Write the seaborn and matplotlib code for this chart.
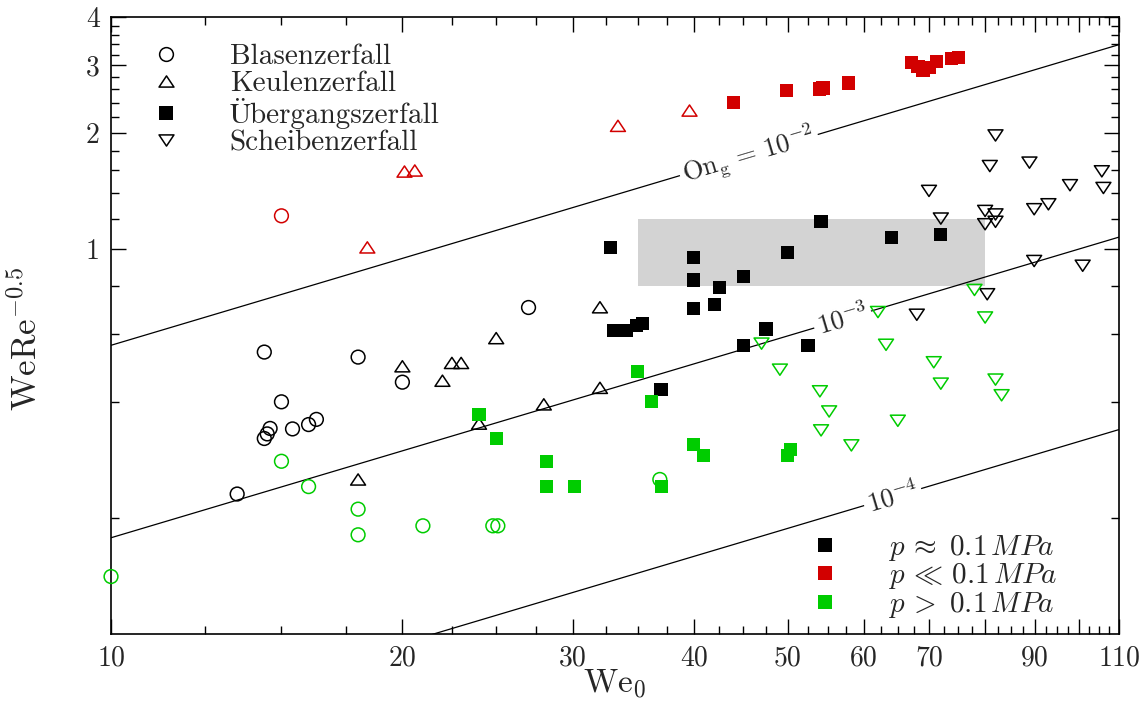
import numpy as np
import pandas as pd
import matplotlib
matplotlib.use("Agg")
import matplotlib.pyplot as plt
from matplotlib.lines import Line2D
from matplotlib.path import Path
from matplotlib.ticker import FixedLocator, FixedFormatter, MultipleLocator, NullFormatter
import seaborn as sns

# Blasenzerfall (open circles)
blasen_atm_we = [14.4, 18.0, 15.0, 14.6, 14.5, 14.4, 15.4, 16.0, 16.3, 13.5, 20.0, 27.0]
blasen_atm_y = [0.540, 0.524, 0.401, 0.342, 0.331, 0.322, 0.341, 0.350, 0.361, 0.231, 0.451, 0.705]
blasen_low_we = [15.0]
blasen_low_y = [1.22]
blasen_high_we = [15.0, 16.0, 18.0, 18.0, 10.0, 21.0, 24.8, 25.1, 36.9]
blasen_high_y = [0.281, 0.2415, 0.211, 0.181, 0.141, 0.191, 0.191, 0.191, 0.252]

# Keulenzerfall (open triangles up)
keulen_atm_we = [18.0, 20.0, 22.0, 22.5, 23.0, 25.0, 24.0, 28.0, 32.0, 32.0]
keulen_atm_y = [0.252, 0.496, 0.455, 0.506, 0.506, 0.587, 0.352, 0.395, 0.436, 0.706]
keulen_low_we = [18.4, 20.1, 20.6, 33.4, 39.6]
keulen_low_y = [1.01, 1.59, 1.60, 2.09, 2.29]

# Übergangszerfall (filled squares)
uebergang_atm_we = [32.8, 40.0, 40.0, 45.0, 42.5, 42.0, 40.0, 47.5, 45.0, 37.0,
                    33.05, 33.6, 34.05, 34.9, 35.4, 54.15, 50.0, 64.0, 71.9, 52.5]
uebergang_atm_y = [1.01, 0.952, 0.831, 0.850, 0.793, 0.719, 0.702, 0.620, 0.561, 0.431,
                   0.615, 0.614, 0.614, 0.632, 0.640, 1.18, 0.98, 1.072, 1.091, 0.561]
uebergang_low_we = [43.95, 49.9, 54.0, 54.4, 57.8, 67.2, 68.2, 69.0, 70.0, 71.3, 73.8, 75.1]
uebergang_low_y = [2.40, 2.58, 2.606, 2.62, 2.70, 3.06, 2.98, 2.92, 2.96, 3.07, 3.12, 3.15]
uebergang_high_we = [24.0, 25.0, 35.0, 36.2, 28.2, 28.2, 30.1, 37.05, 40.0, 40.9, 50.4, 50.0]
uebergang_high_y = [0.371, 0.322, 0.480, 0.401, 0.2805, 0.2415, 0.2415, 0.2415, 0.310, 0.2905, 0.302, 0.291]

# Scheibenzerfall (open triangles down)
scheiben_atm_we = [82.0, 80.9, 88.9, 105.6, 106.0, 97.9, 70.0, 72.0, 80.0, 82.0,
                   80.0, 82.0, 89.9, 93.0, 89.9, 100.9, 80.4, 68.0]
scheiben_atm_y = [1.973, 1.643, 1.677, 1.592, 1.441, 1.465, 1.416, 1.20, 1.256, 1.23,
                  1.16, 1.177, 1.269, 1.307, 0.931, 0.905, 0.763, 0.675]
scheiben_high_we = [78.0, 80.0, 62.0, 63.2, 47.0, 49.1, 54.0, 55.2, 54.15, 58.2, 65.0, 70.8, 72.0, 82.0, 83.2]
scheiben_high_y = [0.783, 0.664, 0.686, 0.564, 0.568, 0.486, 0.427, 0.3785, 0.338, 0.309,
                   0.358, 0.508, 0.447, 0.458, 0.417]

# lines of constant Ohnesorge number: WeRe^-0.5 = We^0.75 * On^0.5
on_levels = [1e-2, 1e-3, 1e-4]
on_labels = [r"$\mathrm{On}_\mathrm{g}\,=\,10^{-2}$", r"$10^{-3}$", r"$10^{-4}$"]
on_label_we = [45.6, 57.0, 64.2]

box_we = [35.0, 80.0]
box_y = [0.8, 1.2]

x_ticks = [10, 20, 30, 40, 50, 60, 70, 80, 90, 100, 110]
x_tick_labels = ["10", "20", "30", "40", "50", "60", "70", "", "90", "", "110"]
y_ticks = [1, 2, 3, 4]
y_tick_labels = ["1", "2", "3", "4"]

regime_names = ["Blasenzerfall", "Keulenzerfall", "Übergangszerfall", "Scheibenzerfall"]
pressure_names = [r"$p\,\approx\ 0.1\,MPa$", r"$p\,\ll\,0.1\,MPa$", r"$p\,>\ 0.1\,MPa$"]

groups = [
    ("Blasenzerfall", "atm", blasen_atm_we, blasen_atm_y),
    ("Blasenzerfall", "low", blasen_low_we, blasen_low_y),
    ("Blasenzerfall", "high", blasen_high_we, blasen_high_y),
    ("Keulenzerfall", "atm", keulen_atm_we, keulen_atm_y),
    ("Keulenzerfall", "low", keulen_low_we, keulen_low_y),
    ("Übergangszerfall", "atm", uebergang_atm_we, uebergang_atm_y),
    ("Übergangszerfall", "low", uebergang_low_we, uebergang_low_y),
    ("Übergangszerfall", "high", uebergang_high_we, uebergang_high_y),
    ("Scheibenzerfall", "atm", scheiben_atm_we, scheiben_atm_y),
    ("Scheibenzerfall", "high", scheiben_high_we, scheiben_high_y),
]
df = pd.concat([pd.DataFrame({"We": we, "y": yy, "regime": r, "pressure": p})
                for r, p, we, yy in groups], ignore_index=True)

colors = {"atm": "black", "low": "#d20000", "high": "#00cc00"}
tri_up = Path([(0, 0.75), (-1, -0.75), (1, -0.75), (0, 0.75)], closed=True)
tri_down = Path([(0, -0.75), (-1, 0.75), (1, 0.75), (0, -0.75)], closed=True)
markers = {"Blasenzerfall": "o", "Keulenzerfall": tri_up,
           "Übergangszerfall": "s", "Scheibenzerfall": tri_down}
sizes = {"Blasenzerfall": 98, "Keulenzerfall": 115, "Übergangszerfall": 90, "Scheibenzerfall": 115}

sns.set_theme(style="ticks")
plt.rcParams["font.family"] = ["cmr10", "STIXGeneral"]
plt.rcParams["mathtext.fontset"] = "cm"
plt.rcParams["axes.unicode_minus"] = False
plt.rcParams["axes.formatter.use_mathtext"] = True

fig, ax = plt.subplots(figsize=(11.41, 7.01), dpi=100)
fig.subplots_adjust(left=0.0973, right=0.9807, top=0.9753, bottom=0.0956)
ax.set_xscale("log")
ax.set_yscale("log")
ax.set_xlim(10, 110)
ax.set_ylim(0.1, 4)

ax.fill_between(box_we, box_y[0], box_y[1], color="#d3d3d3", lw=0, zorder=1)

we_line = np.geomspace(10, 110, 60)
for on in on_levels:
    sns.lineplot(x=we_line, y=we_line ** 0.75 * np.sqrt(on), color="black", lw=0.9,
                 ax=ax, zorder=2, estimator=None, sort=False)

for (regime, pressure), g in df.groupby(["regime", "pressure"], sort=False):
    c = colors[pressure]
    if regime == "Übergangszerfall":
        sns.scatterplot(data=g, x="We", y="y", marker="s", color=c, edgecolor="none",
                        linewidth=0, s=sizes[regime], ax=ax, zorder=3, clip_on=False)
    else:
        sns.scatterplot(data=g, x="We", y="y", marker=markers[regime], facecolor="none",
                        edgecolor=c, linewidth=1.1, s=sizes[regime], ax=ax, zorder=3, clip_on=False)

fig.canvas.draw()
for on, lab, wx in zip(on_levels, on_labels, on_label_we):
    p1 = ax.transData.transform((10, 10 ** 0.75 * np.sqrt(on)))
    p2 = ax.transData.transform((110, 110 ** 0.75 * np.sqrt(on)))
    ang = np.degrees(np.arctan2(p2[1] - p1[1], p2[0] - p1[0]))
    ax.text(wx, wx ** 0.75 * np.sqrt(on), lab, rotation=ang, rotation_mode="anchor",
            ha="center", va="center", fontsize=19, zorder=2.5,
            bbox=dict(facecolor="white", edgecolor="none", pad=2.5))

ax.xaxis.set_major_locator(FixedLocator(x_ticks))
ax.xaxis.set_major_formatter(FixedFormatter(x_tick_labels))
ax.xaxis.set_minor_locator(MultipleLocator(2.5))
ax.xaxis.set_minor_formatter(NullFormatter())
ax.yaxis.set_major_locator(FixedLocator(y_ticks))
ax.yaxis.set_major_formatter(FixedFormatter(y_tick_labels))
ax.yaxis.set_minor_locator(MultipleLocator(0.2))
ax.yaxis.set_minor_formatter(NullFormatter())
ax.tick_params(which="both", direction="in", top=True, right=True, width=1.0, color="black")
ax.tick_params(which="major", length=10.5, labelsize=20, pad=8)
ax.tick_params(which="minor", length=6)
for sp in ax.spines.values():
    sp.set_linewidth(1.2)
    sp.set_color("black")

ax.set_xlabel(r"$\mathrm{We}_0$", fontsize=24)
ax.set_ylabel(r"$\mathrm{WeRe}^{-0.5}$", fontsize=25)
ax.xaxis.set_label_coords(0.5, -0.053)
ax.yaxis.set_label_coords(-0.066, 0.478)

h1 = []
for r in regime_names:
    if r == "Übergangszerfall":
        h1.append(Line2D([], [], ls="none", marker="s", color="black", markeredgewidth=0,
                         markersize=np.sqrt(sizes[r])))
    else:
        h1.append(Line2D([], [], ls="none", marker=markers[r], markerfacecolor="none",
                         markeredgecolor="black", markeredgewidth=1.1, markersize=np.sqrt(sizes[r])))
leg1 = ax.legend(h1, regime_names, loc="upper left", bbox_to_anchor=(0.0253, 0.957),
                 frameon=False, fontsize=21, borderpad=0, borderaxespad=0,
                 handletextpad=1.2, labelspacing=0.025, handlelength=2.0)
ax.add_artist(leg1)

h2 = [Line2D([], [], ls="none", marker="s", color=colors[k], markeredgewidth=0,
             markersize=np.sqrt(sizes["Übergangszerfall"])) for k in ["atm", "low", "high"]]
ax.legend(h2, pressure_names, loc="upper left", bbox_to_anchor=(0.6796, 0.164),
          frameon=False, fontsize=21, borderpad=0, borderaxespad=0,
          handletextpad=1.16, labelspacing=-0.05, handlelength=2.0)

fig.savefig("out.png", dpi=100)
